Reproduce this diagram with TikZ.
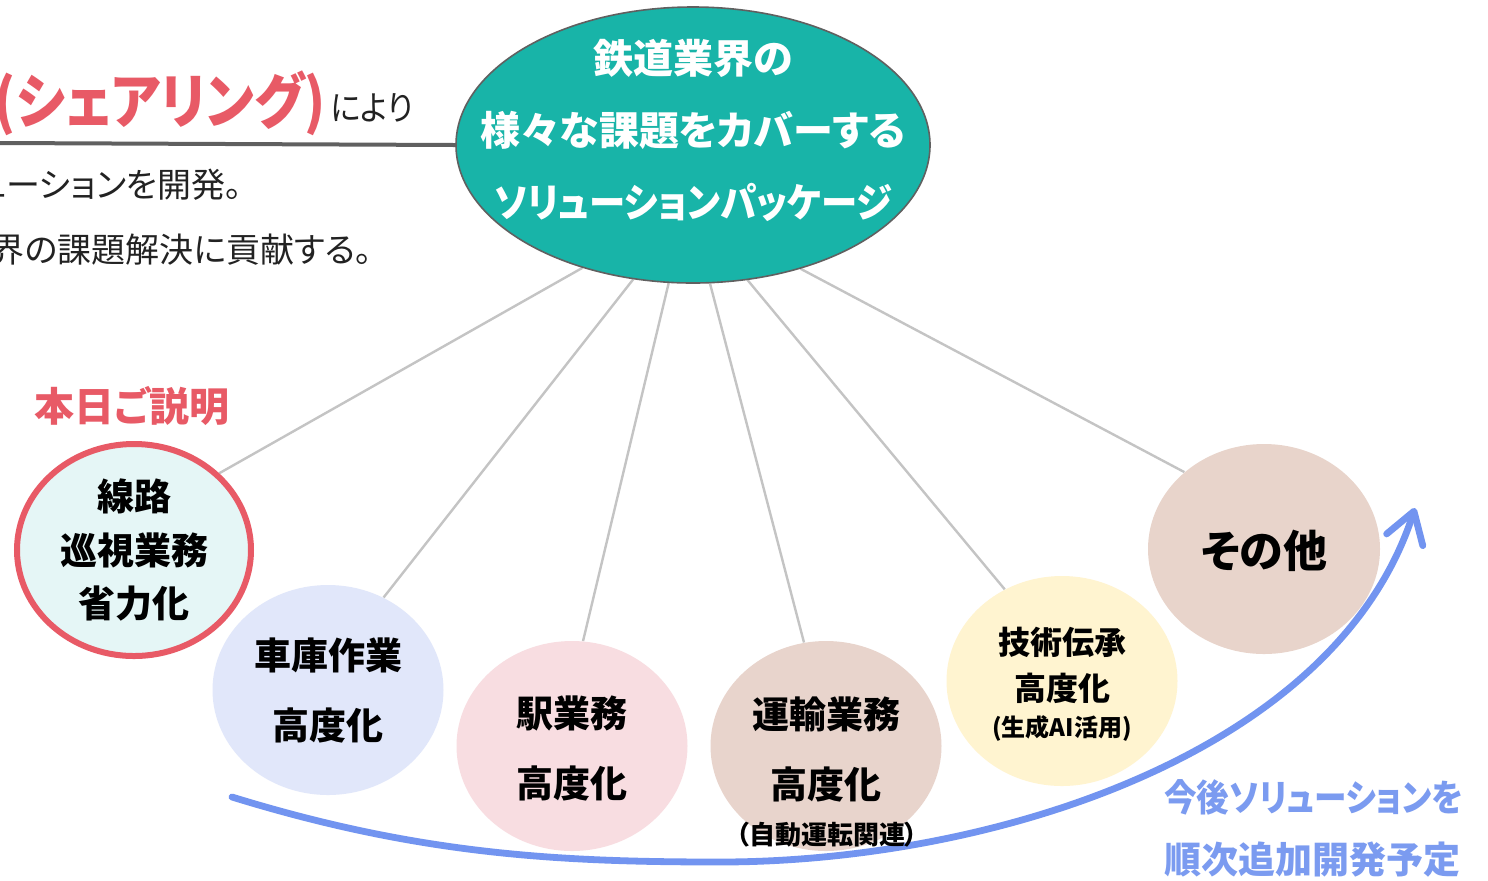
\documentclass[tikz,border=0pt]{standalone}
\usepackage{fontspec}
\usetikzlibrary{shapes.geometric,arrows.meta}
\newfontfamily\jp[RawFeature=+palt]{Noto Sans CJK JP}
\definecolor{tealc}{HTML}{18B4A8}
\definecolor{redc}{HTML}{E85A66}
\definecolor{c1fill}{HTML}{E5F6F6}
\definecolor{c2fill}{HTML}{E1E7FA}
\definecolor{c3fill}{HTML}{F8DDE1}
\definecolor{c4fill}{HTML}{E8D4CC}
\definecolor{c5fill}{HTML}{FFF4D0}
\definecolor{c6fill}{HTML}{E8D4CB}
\definecolor{bluec}{HTML}{7294F0}
\definecolor{bluet}{HTML}{7B9BF0}
\definecolor{linec}{HTML}{C4C4C4}
\definecolor{darkl}{HTML}{606060}
\definecolor{txt}{HTML}{222222}
\pgfdeclarelayer{bg}
\pgfsetlayers{bg,main}
\begin{document}
\begin{tikzpicture}[x=0.5pt,y=-0.5pt,
  bub/.style={ellipse, inner sep=0pt, minimum width=115.5pt, minimum height=105pt},
  conn/.style={draw=linec, line width=1.2pt},
  lbl/.style={font=\jp\bfseries\fontsize{18.5}{35}\selectfont, align=center, inner sep=0pt, text=black},
  arrowc/.style={draw=bluec, line width=3.4pt, line cap=round, -{Straight Barb[length=15pt,width=19pt,round]}},
  plain/.style={font=\jp\fontsize{17}{20}\selectfont, inner sep=0pt, text=txt}
]
\useasboundingbox (0,0) rectangle (1488,880);
\begin{pgfonlayer}{bg}
\fill[white] (0,0) rectangle (1488,880);
\end{pgfonlayer}

% circles
\node[bub, fill=c2fill] (c2) at (328,690) {};
\node[bub, fill=c1fill, draw=redc, line width=3pt, minimum width=117pt, minimum height=106pt] (c1) at (134,550) {};
\node[bub, fill=c3fill] (c3) at (572,746) {};
\node[bub, fill=c4fill] (c4) at (826,746) {};
\node[bub, fill=c5fill] (c5) at (1062,681) {};
\node[bub, fill=c6fill, minimum width=116pt] (c6) at (1264,549) {};

% main ellipse
\node[ellipse, inner sep=0pt, minimum width=237pt, minimum height=138pt, fill=tealc, draw=darkl, line width=0.8pt] (main) at (693,145) {};

% connectors
\begin{pgfonlayer}{bg}
\coordinate (hl) at (0,143);
\draw[draw=darkl, line width=2pt] (hl) -- (main.west);
\draw[conn] (main.228.2) -- (c1.42.5);
\draw[conn] (main.246) -- (c2.59.9);
\draw[conn] (main.260.6) -- (c3.84.4);
\draw[conn] (main.277) -- (c4.102.7);
\draw[conn] (main.292.9) -- (c5.122.3);
\draw[conn] (main.311) -- (c6.136.8);
\end{pgfonlayer}

% blue arrow
\coordinate (as) at (232,797);
\coordinate (am) at (720,862);
\coordinate (ae) at (1415,508);
\draw[arrowc] (as) .. controls (420,855) and (560,862) .. (am) .. controls (990,862) and (1335,755) .. (ae);

% main text
\node[lbl, text=white, font=\jp\bfseries\fontsize{20}{36}\selectfont] (mainT) at (693,130) {鉄道業界の\\様々な課題をカバーする\\\scalebox{0.91}[1]{ソリューションパッケージ}};

% circle texts
\node[lbl, font=\jp\bfseries\fontsize{18.5}{26.75}\selectfont] (t1) at (134,550) {線路\\巡視業務\\省力化};
\node[lbl] (t2) at (328,690) {車庫作業\\高度化};
\node[lbl] (t3) at (572,748) {駅業務\\高度化};
\node[lbl] (t4) at (826,749) {運輸業務\\高度化};
\node[lbl, font=\jp\bfseries\fontsize{13}{15}\selectfont] (t4b) at (827,835) {（自動運転関連）};
\node[lbl, font=\jp\bfseries\fontsize{16}{23}\selectfont] (t5) at (1062,665) {技術伝承\\高度化};
\node[lbl, font=\jp\bfseries\fontsize{12}{14}\selectfont] (t5b) at (1062,728) {(生成AI活用)};
\node[lbl, font=\jp\bfseries\fontsize{22}{26}\selectfont] (t6) at (1264,551) {その他};

% headings
\node[lbl, text=redc, font=\jp\bfseries\fontsize{20}{24}\selectfont] (today) at (132,406) {本日ご説明};
\node[lbl, text=bluet, anchor=west] (fut1) at (1164,797) {\scalebox{0.88}[1]{今後ソリューションを}};
\node[lbl, text=bluet, anchor=west] (fut2) at (1164,860) {順次追加開発予定};

% left texts
\node[lbl, text=redc, anchor=east, font=\jp\bfseries\fontsize{30}{34}\selectfont] (share) at (326,103) {\scalebox{0.88}[1]{(シェアリング)}};
\node[plain, anchor=west] (niyori) at (330,108) {\scalebox{0.92}[1]{により}};
\node[plain, anchor=east] (dev) at (243,185) {ューションを開発。};
\node[plain, anchor=east] (contrib) at (373,250) {界の課題解決に貢献する。};
\end{tikzpicture}
\end{document}
